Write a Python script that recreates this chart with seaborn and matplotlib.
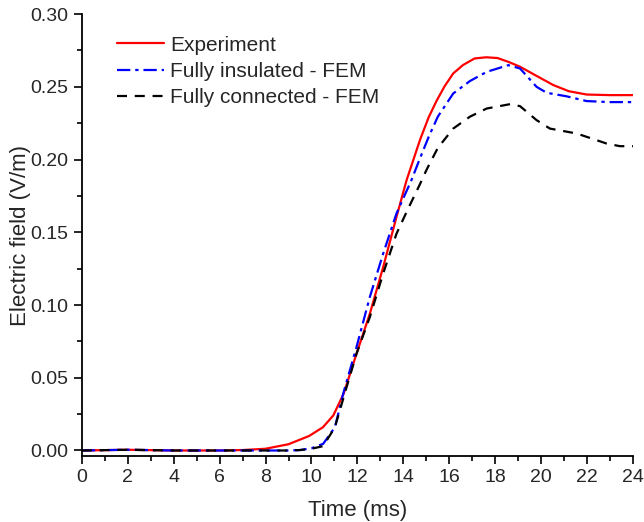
import numpy as np
import pandas as pd
import matplotlib
matplotlib.use("Agg")
import matplotlib.pyplot as plt
import seaborn as sns
from matplotlib.ticker import MultipleLocator

sns.set_style("ticks")
plt.rcParams['font.family'] = ['Liberation Sans', 'DejaVu Sans']

# Data
t_exp = [0, 2, 4, 6, 7, 8, 9, 9.9, 10.5, 10.95, 11.4, 11.96, 12.54, 13.12, 13.7, 14.14, 14.72, 15.1, 15.45, 15.8, 16.17, 16.6, 17.1, 17.6, 18.1, 18.6, 19.08, 19.8, 20.53, 21.2, 21.98, 23, 24]
e_exp = [0, 0.0005, 0, 0, 0.0003, 0.0012, 0.0043, 0.0100, 0.016, 0.0241, 0.039, 0.0665, 0.094, 0.126, 0.1605, 0.1858, 0.2133, 0.229, 0.2405, 0.2505, 0.2592, 0.265, 0.2695, 0.2703, 0.2698, 0.267, 0.2638, 0.2575, 0.2512, 0.247, 0.2447, 0.2443, 0.2443]

t_ins = [0, 2, 4, 6, 8, 9, 9.5, 10, 10.51, 11.02, 11.38, 11.96, 12.54, 13.12, 13.7, 14.35, 14.72, 15.1, 15.5, 16.17, 16.9, 17.63, 18.57, 19.08, 19.8, 20.24, 21.1, 21.98, 23, 24]
e_ins = [0, 0.0005, 0, 0, 0, 0, 0.0003, 0.0015, 0.0046, 0.016, 0.039, 0.0711, 0.1055, 0.1353, 0.1629, 0.1858, 0.2007, 0.2155, 0.2295, 0.2454, 0.254, 0.2603, 0.2649, 0.2626, 0.250, 0.2459, 0.2435, 0.2402, 0.2395, 0.2395]

t_con = [0, 2, 4, 6, 8, 9, 9.5, 10, 10.51, 11.02, 11.53, 11.96, 12.54, 13.12, 13.7, 14.2, 14.72, 15.01, 15.5, 16.17, 16.9, 17.63, 18.65, 19.08, 19.8, 20.38, 21.55, 22.85, 23.43, 24]
e_con = [0, 0.0005, 0, 0, 0, 0, 0.0003, 0.0012, 0.003, 0.016, 0.0436, 0.0665, 0.0917, 0.1216, 0.149, 0.166, 0.183, 0.193, 0.208, 0.2213, 0.2295, 0.2351, 0.2381, 0.2367, 0.2271, 0.2213, 0.2179, 0.211, 0.2092, 0.2092]

labels = ["Experiment", "Fully insulated - FEM", "Fully connected - FEM"]

fig = plt.figure(figsize=(6.44, 5.22), dpi=100)
ax = fig.add_axes([0.127, 0.1264, 0.856, 0.8466])

df1 = pd.DataFrame({"t": t_exp, "e": e_exp})
df2 = pd.DataFrame({"t": t_ins, "e": e_ins})
df3 = pd.DataFrame({"t": t_con, "e": e_con})

sns.lineplot(data=df1, x="t", y="e", ax=ax, color="#ff0000", lw=1.6, label=labels[0])
sns.lineplot(data=df2, x="t", y="e", ax=ax, color="#0000ff", lw=1.6, label=labels[1])
sns.lineplot(data=df3, x="t", y="e", ax=ax, color="black", lw=1.6, label=labels[2])
ax.lines[1].set_dashes([6, 2.2, 1.5, 2.2])
ax.lines[2].set_dashes([4.5, 3.5])

ax.set_xlim(0, 24)
ax.set_ylim(-0.0038, 0.30)
ax.xaxis.set_major_locator(MultipleLocator(2))
ax.xaxis.set_minor_locator(MultipleLocator(1))
ax.yaxis.set_minor_locator(MultipleLocator(0.025))
ax.set_yticks(np.arange(0, 0.301, 0.05))
ax.set_yticklabels([f"{v:.2f}" for v in np.arange(0, 0.301, 0.05)])
ax.tick_params(axis='both', which='major', direction='out', length=6, width=1.2, labelsize=14, color='black')
ax.tick_params(axis='both', which='minor', direction='out', length=3.5, width=1.2, color='black')
for s in ['left', 'bottom']:
    ax.spines[s].set_linewidth(1.3)
    ax.spines[s].set_color('black')
sns.despine(ax=ax)

ax.set_xlabel("Time (ms)", fontsize=16, labelpad=10)
ax.set_ylabel("Electric field (V/m)", fontsize=16, labelpad=0)

leg = ax.legend(loc='upper left', bbox_to_anchor=(0.049, 0.97), frameon=False, fontsize=15,
                handlelength=2.25, handletextpad=0.3, labelspacing=0.35, borderaxespad=0)
for h in leg.get_lines():
    h.set_linewidth(1.6)

fig.savefig("out.png", dpi=100)
